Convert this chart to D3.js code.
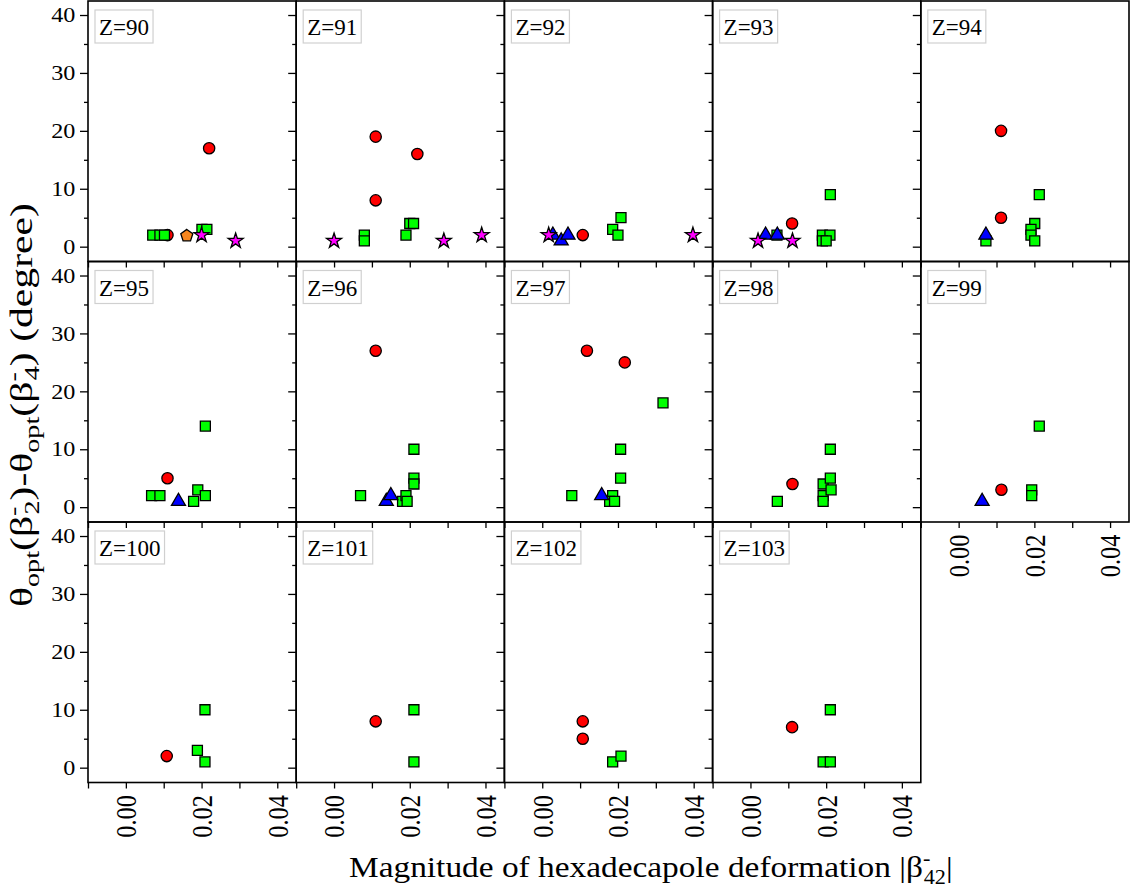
<!DOCTYPE html>
<html>
<head>
<meta charset="utf-8">
<script src="https://cdn.jsdelivr.net/npm/d3@7"></script>
<style>
  body { margin: 0; background: #fff; }
</style>
</head>
<body>
<svg id="chart" width="1133" height="890"></svg>
<script>
// proton number of each panel
const zValues = [90, 91, 92, 93, 94, 95, 96, 97, 98, 99, 100, 101, 102, 103];

const xTicks = [-0.01, 0, 0.01, 0.02, 0.03, 0.04];
const xTickLabels = [0, 0.02, 0.04];
const yTicks = [0, 10, 20, 30, 40];
const yMinorTicks = [5, 15, 25, 35];

// [ |beta42| , delta theta (degree) ] for each panel, one array per marker kind
const redCircles = [
  [[0.022, 17], [0.011, 2]],
  [[0.011, 19], [0.022, 16], [0.011, 8]],
  [[0.0107, 2]],
  [[0.011, 4]],
  [[0.0112, 20], [0.0112, 5]],
  [[0.011, 5]],
  [[0.011, 27]],
  [[0.0118, 27], [0.0218, 25]],
  [[0.0111, 4]],
  [[0.0113, 3]],
  [[0.0108, 2]],
  [[0.011, 8]],
  [[0.0107, 8], [0.0107, 5]],
  [[0.011, 7]]
];

const greenSquares = [
  [[0.0071, 2], [0.009, 2], [0.0102, 2], [0.0201, 3], [0.0214, 3]],
  [[0.008, 2], [0.008, 1], [0.019, 2], [0.020, 4], [0.021, 4]],
  [[0.0186, 3], [0.020, 2], [0.0208, 5]],
  [[0.007, 2], [0.019, 2], [0.021, 2], [0.019, 1], [0.020, 1], [0.0211, 9]],
  [[0.0072, 1], [0.0213, 9], [0.0201, 4], [0.0191, 3], [0.0191, 2], [0.0201, 1]],
  [[0.0068, 2], [0.009, 2], [0.0179, 1], [0.019, 3], [0.021, 2], [0.021, 14]],
  [[0.007, 2], [0.0181, 1], [0.019, 2], [0.0193, 1], [0.0211, 5], [0.0211, 4], [0.0211, 10]],
  [[0.0319, 18], [0.0207, 10], [0.0207, 5], [0.0078, 2], [0.0186, 2], [0.0178, 1], [0.0191, 1]],
  [[0.0071, 1], [0.0192, 4], [0.0192, 2], [0.0192, 1], [0.0211, 10], [0.0211, 5], [0.0213, 3]],
  [[0.0193, 3], [0.0193, 2], [0.0213, 14]],
  [[0.0189, 3], [0.0209, 1], [0.0209, 10]],
  [[0.0211, 10], [0.0211, 1]],
  [[0.0186, 1], [0.0208, 2]],
  [[0.0211, 10], [0.0192, 1], [0.0211, 1]]
];

const orangePentagons = [
  [[0.0161, 2]], [], [], [], [], [], [], [], [], [], [], [], [], []
];

const blueTriangles = [
  [],
  [],
  [[0.0028, 2], [0.005, 1], [0.0068, 2]],
  [[0.004, 2], [0.0071, 2]],
  [[0.0072, 2]],
  [[0.0139, 1]],
  [[0.0138, 1], [0.015, 2]],
  [[0.0157, 2]],
  [],
  [[0.0062, 1]],
  [], [], [], []
];

const magentaStars = [
  [[0.020, 2], [0.029, 1]],
  [[0.000, 1], [0.029, 1], [0.039, 2]],
  [[0.0017, 2], [0.0398, 2]],
  [[0.002, 1], [0.0111, 1]],
  [], [], [], [], [], [], [], [], [], []
];

const pentagon = {
  draw(ctx, size) {
    const r = Math.sqrt(size / 2.378);
    for (let k = 0; k < 5; k++) {
      const a = -Math.PI / 2 + k * 2 * Math.PI / 5;
      const px = r * Math.cos(a), py = r * Math.sin(a) + r * 0.1;
      if (k === 0) ctx.moveTo(px, py); else ctx.lineTo(px, py);
    }
    ctx.closePath();
  }
};

// draw order: later kinds sit on top
const markerKinds = [
  { data: redCircles, type: d3.symbolCircle, size: 100, fill: '#ff0000' },
  { data: greenSquares, type: d3.symbolSquare, size: 100, fill: '#00ff00' },
  { data: orangePentagons, type: pentagon, size: 95, fill: '#f7861e' },
  { data: blueTriangles, type: d3.symbolTriangle, size: 85, fill: '#0000ff' },
  { data: magentaStars, type: d3.symbolStar, size: 70, fill: '#ff00ff' }
];

const serif = '"Liberation Serif", "Times New Roman", Times, serif';

const svg = d3.select('#chart').style('font-family', serif);
const panelW = 208.2, panelH = 260.5, marginLeft = 88, marginTop = 1, nCols = 5;

const x = d3.scaleLinear().domain([-0.01, 0.045]).range([0, panelW]);
const y = d3.scaleLinear().domain([-2.56, 42.42]).range([panelH, 0]);

const panels = zValues.map((z, i) => {
  const col = i % nCols, row = Math.floor(i / nCols);
  const g = svg.append('g')
    .attr('transform', `translate(${marginLeft + col * panelW},${marginTop + row * panelH})`);
  return { z, i, col, g };
});

// frames and axes first
panels.forEach(({ i, col, g }) => {
  g.append('rect')
    .attr('width', panelW).attr('height', panelH)
    .attr('fill', 'none').attr('stroke', '#000').attr('stroke-width', 1.6);

  const yAxis = d3.axisLeft(y).tickValues(yTicks).tickSize(8).tickPadding(3)
    .tickFormat(col === 0 ? d3.format('d') : '');
  g.append('g').call(yAxis)
    .call(a => a.select('.domain').remove())
    .call(a => a.selectAll('line').attr('stroke-width', 1.3))
    .call(a => a.selectAll('text')
      .style('font-family', serif)
      .style('font-size', '21px')
      .attr('transform', 'scale(1.15,1)'));

  g.append('g').call(d3.axisLeft(y).tickValues(yMinorTicks).tickSize(4).tickFormat(''))
    .call(a => a.select('.domain').remove())
    .call(a => a.selectAll('line').attr('stroke-width', 1.3));

  const showX = i + nCols >= zValues.length;
  const xAxis = d3.axisBottom(x).tickValues(xTicks).tickSize(6)
    .tickFormat(d => showX && xTickLabels.includes(d) ? d3.format('.2f')(d) : '');
  g.append('g').attr('transform', `translate(0,${panelH})`).call(xAxis)
    .call(a => a.select('.domain').remove())
    .call(a => a.selectAll('line').attr('stroke-width', 1.3))
    .call(a => a.selectAll('text')
      .style('font-family', serif)
      .style('font-size', '24.5px')
      .attr('text-anchor', 'end')
      .attr('x', -12.5).attr('y', 0).attr('dy', '0.33em')
      .attr('transform', 'rotate(-90) scale(1,1.22)'));
});

// markers and Z labels
panels.forEach(({ z, i, g }) => {
  markerKinds.forEach(kind => {
    g.selectAll(null)
      .data(kind.data[i])
      .enter().append('path')
      .attr('d', d3.symbol().type(kind.type).size(kind.size))
      .attr('transform', d => `translate(${x(d[0])},${y(d[1])})`)
      .attr('fill', kind.fill)
      .attr('stroke', '#000')
      .attr('stroke-width', 1.3);
  });

  const box = g.append('g').attr('transform', 'translate(7,9)');
  const rect = box.append('rect').attr('height', 33)
    .attr('fill', '#fff').attr('stroke', '#d0d0d0').attr('stroke-width', 1.2);
  const label = box.append('text').attr('x', 4).attr('y', 25)
    .style('font-family', serif).style('font-size', '23px')
    .text('Z=' + z);
  rect.attr('width', label.node().getComputedTextLength() + 8);
});

function richText(sel, parts) {
  let cur = 0;
  parts.forEach(([t, size, off, dx]) => {
    sel.append('tspan').style('font-size', size + 'px')
      .attr('dy', off - cur).attr('dx', dx || 0).text(t);
    cur = off;
  });
}

// y axis title: centred on the panel block, stretched along its length like the original
const yTitle = svg.append('text').style('font-family', serif);
richText(yTitle, [
  ['θ', 31, 0], ['opt', 21, 7], ['(β', 31, 0], ['-', 21, -12], ['2', 21, 7, -6],
  [')-θ', 31, 0], ['opt', 21, 7], ['(β', 31, 0], ['-', 21, -12], ['4', 21, 7, -6],
  [') (degree)', 31, 0]
]);
const yb = yTitle.node().getBBox();
const yStretch = 404 / yb.width;
yTitle.attr('transform',
  `translate(32,405) rotate(-90) scale(${yStretch},1) translate(${-(yb.x + yb.width / 2)},0)`);

// x axis title
const xTitle = svg.append('text').style('font-family', serif);
richText(xTitle, [
  ['Magnitude of hexadecapole deformation |β', 30, 0], ['-', 20, -12], ['42', 20, 7, -6], ['|', 30, 0]
]);
const xb = xTitle.node().getBBox();
const xStretch = 604 / xb.width;
xTitle.attr('transform',
  `translate(651,877) scale(${xStretch},1) translate(${-(xb.x + xb.width / 2)},0)`);
</script>
</body>
</html>
